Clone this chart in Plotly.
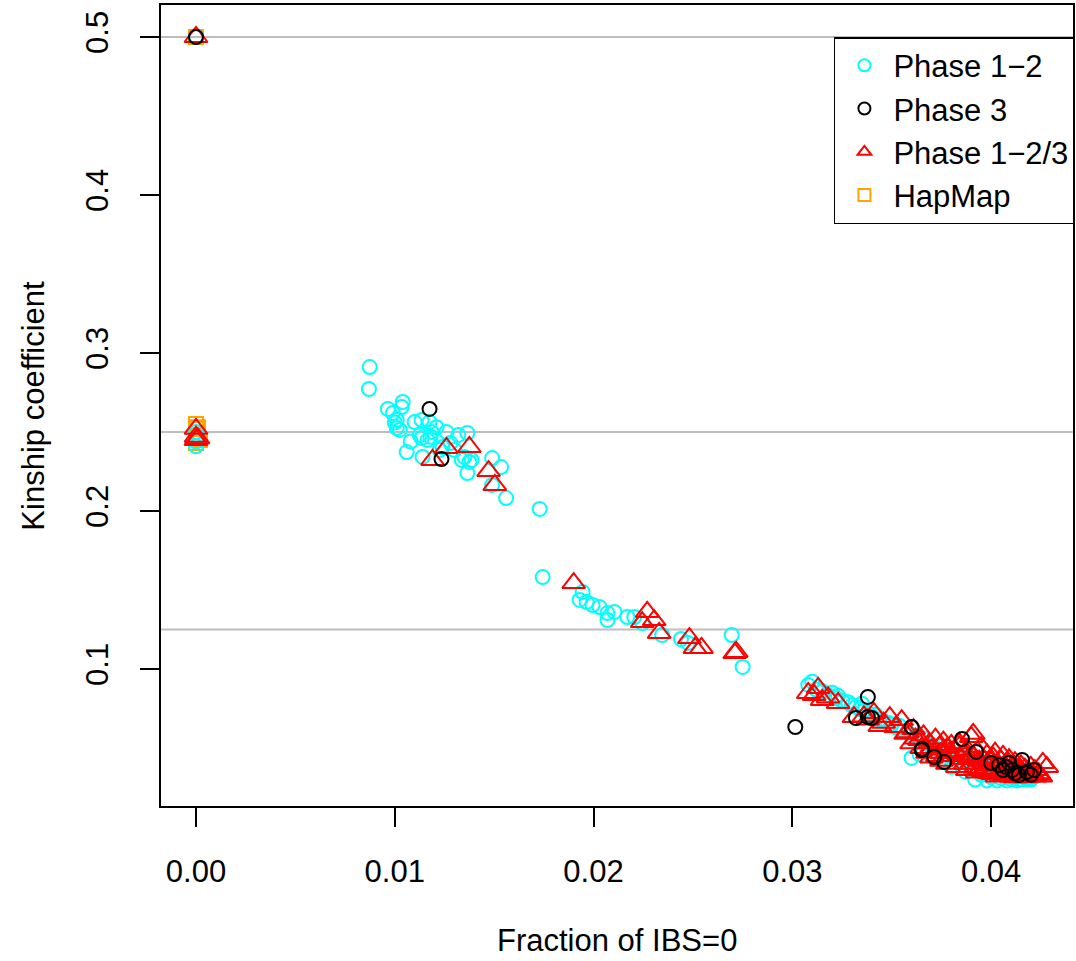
import plotly.graph_objects as go

# ---------------- data ----------------
# Phase 1-2 (cyan open circles)
p12_x = [0.0, 0.0, 0.0, 0.0001, 0.0,
         0.00874, 0.0087, 0.00965, 0.0099, 0.01035, 0.0104, 0.0101, 0.0101, 0.01025, 0.0106,
         0.0110, 0.01135, 0.01175, 0.01185, 0.01135, 0.01165, 0.0114, 0.01126, 0.0126, 0.0124,
         0.0132, 0.01365, 0.0130, 0.0135, 0.01375, 0.01365, 0.01337, 0.01387, 0.01226, 0.0149,
         0.01535, 0.0149, 0.0156, 0.01729, 0.01744, 0.0100, 0.0108, 0.0118, 0.0128, 0.0121,
         0.01945, 0.0193, 0.01965, 0.01995, 0.0203, 0.0207, 0.0207, 0.02105, 0.0217, 0.02205,
         0.02245, 0.02345, 0.0244, 0.02475, 0.02695, 0.0275,
         0.0310, 0.0308, 0.0312, 0.0315, 0.0318, 0.0320, 0.0322, 0.0325, 0.0328, 0.0330,
         0.0332, 0.0334, 0.0336, 0.0338, 0.0340, 0.0342, 0.0344, 0.0346, 0.0348, 0.0350,
         0.0352, 0.0354, 0.0356, 0.0358, 0.0360, 0.0360, 0.0362, 0.0364, 0.0366, 0.0368,
         0.0370, 0.0372, 0.0374, 0.0376, 0.0378, 0.0380, 0.0382, 0.0384, 0.0386, 0.0388,
         0.0390, 0.0392, 0.0394, 0.0396, 0.0398, 0.0400, 0.0402, 0.0404, 0.0406, 0.0408,
         0.0410, 0.0412, 0.0414, 0.0416, 0.0418, 0.0420, 0.0422, 0.0375, 0.0385, 0.0364,
         0.0395, 0.0400, 0.0405, 0.0410, 0.0415, 0.0419, 0.0366, 0.0370, 0.0323, 0.0335,
         0.0392, 0.0398, 0.0403, 0.0408, 0.0413, 0.0418, 0.0380, 0.0387]
p12_y = [0.241, 0.244, 0.250, 0.247, 0.500,
         0.2911, 0.2772, 0.2646, 0.2620, 0.2658, 0.2690, 0.2576, 0.2525, 0.2513, 0.2373,
         0.2563, 0.2576, 0.2563, 0.2500, 0.2462, 0.2449, 0.2342, 0.2481, 0.2500, 0.2405,
         0.2481, 0.2494, 0.2386, 0.2342, 0.2310, 0.2240, 0.2323, 0.2323, 0.2386, 0.2335,
         0.2278, 0.2165, 0.2082, 0.2013, 0.1582, 0.2560, 0.2440, 0.2470, 0.2430, 0.2530,
         0.1487, 0.1437, 0.1424, 0.1405, 0.1392, 0.1354, 0.1310, 0.1361, 0.1329, 0.1329,
         0.1291, 0.1215, 0.1190, 0.1165, 0.1215, 0.1013,
         0.0920, 0.0899, 0.0870, 0.0860, 0.0835, 0.0850, 0.0815, 0.0800, 0.0790, 0.0770,
         0.0760, 0.0745, 0.0735, 0.0720, 0.0700, 0.0710, 0.0680, 0.0670, 0.0660, 0.0650,
         0.0630, 0.0640, 0.0610, 0.0600, 0.0437, 0.0580, 0.0570, 0.0550, 0.0560, 0.0530,
         0.0520, 0.0500, 0.0510, 0.0480, 0.0490, 0.0470, 0.0460, 0.0450, 0.0440, 0.0430,
         0.0420, 0.0410, 0.0400, 0.0390, 0.0380, 0.0370, 0.0360, 0.0350, 0.0340, 0.0330,
         0.0320, 0.0310, 0.0300, 0.0320, 0.0310, 0.0300, 0.0320, 0.0420, 0.0390, 0.0460,
         0.0330, 0.0315, 0.0310, 0.0305, 0.0300, 0.0310, 0.0480, 0.0450, 0.0830, 0.0780,
         0.0300, 0.0295, 0.0295, 0.0295, 0.0295, 0.0300, 0.0380, 0.0350]

# Phase 3 (black open circles)
p3_x = [0.0, 0.01175, 0.01235, 0.03015, 0.0338, 0.0332, 0.0338, 0.0340, 0.0360, 0.03653,
        0.0365, 0.03714, 0.03764, 0.03854, 0.03925, 0.0400, 0.0404, 0.04075, 0.04106, 0.04156,
        0.0414, 0.0418, 0.04216, 0.0409, 0.0412, 0.0420, 0.0406]
p3_y = [0.500, 0.2646, 0.2329, 0.0633, 0.0823, 0.0690, 0.0696, 0.0690, 0.0633, 0.0494,
        0.0487, 0.0443, 0.0411, 0.0557, 0.0475, 0.0405, 0.0392, 0.0380, 0.0361, 0.0424,
        0.0329, 0.0348, 0.0361, 0.0405, 0.0340, 0.0330, 0.0360]

# Phase 1-2/3 (red open triangles)
p123_x = [0.0, 0.0, 0.0, 0.0001, 0.0,
          0.0119, 0.0126, 0.01375, 0.01472, 0.01503,
          0.0190, 0.0227, 0.02305, 0.02245, 0.0233, 0.02482, 0.02543, 0.0251, 0.02718, 0.0271,
          0.0308, 0.0311, 0.0313, 0.0315, 0.0318, 0.0323, 0.0331, 0.0336, 0.0341, 0.0346,
          0.0349, 0.0352, 0.0355, 0.0358, 0.0361, 0.0364, 0.0366, 0.0369, 0.0372, 0.0374,
          0.0376, 0.0378, 0.0380, 0.0382, 0.0384, 0.0386, 0.0388, 0.0390, 0.0391, 0.0393,
          0.0395, 0.0396, 0.0398, 0.0400, 0.0401, 0.0402, 0.0403, 0.0405, 0.0406, 0.0407,
          0.0408, 0.0409, 0.0410, 0.0411, 0.0412, 0.0413, 0.0414, 0.0415, 0.0416, 0.0417,
          0.0418, 0.0419, 0.0420, 0.0421, 0.0422, 0.0424, 0.0425, 0.0426, 0.0428, 0.0398,
          0.0394, 0.0389, 0.0385, 0.0380, 0.0375, 0.0370, 0.0365, 0.0360, 0.0405, 0.0410,
          0.0400, 0.0395, 0.0390, 0.0378, 0.0383, 0.0388, 0.0393, 0.0403, 0.0375, 0.0370,
          0.0391, 0.0384, 0.0379, 0.0396, 0.0401, 0.0407, 0.0412, 0.0417, 0.0422, 0.0399,
          0.0404, 0.0409, 0.0414, 0.0419, 0.0424, 0.0387, 0.0392, 0.0397, 0.0368, 0.0373,
          0.0362, 0.0357, 0.0344, 0.0338]
p123_y = [0.500, 0.252, 0.247, 0.246, 0.245,
          0.2323, 0.2399, 0.2405, 0.2253, 0.2165,
          0.1544, 0.1361, 0.1310, 0.1297, 0.1228, 0.1196, 0.1133, 0.1133, 0.1108, 0.1101,
          0.0848, 0.0835, 0.0880, 0.0804, 0.0820, 0.0785, 0.0696, 0.0700, 0.0722, 0.0660,
          0.0696, 0.0633, 0.0677, 0.0600, 0.0620, 0.0551, 0.0580, 0.0530, 0.0560, 0.0510,
          0.0540, 0.0500, 0.0520, 0.0480, 0.0510, 0.0460, 0.0490, 0.0570, 0.0450, 0.0480,
          0.0506, 0.0430, 0.0460, 0.0410, 0.0440, 0.0470, 0.0390, 0.0420, 0.0450, 0.0370,
          0.0400, 0.0430, 0.0350, 0.0380, 0.0410, 0.0330, 0.0360, 0.0390, 0.0340, 0.0370,
          0.0320, 0.0350, 0.0380, 0.0330, 0.0360, 0.0340, 0.0320, 0.0405, 0.0380, 0.0390,
          0.0420, 0.0440, 0.0430, 0.0450, 0.0470, 0.0490, 0.0500, 0.0530, 0.0330, 0.0320,
          0.0350, 0.0370, 0.0400, 0.0400, 0.0380, 0.0360, 0.0345, 0.0320, 0.0420, 0.0440,
          0.0590, 0.0530, 0.0470, 0.0355, 0.0335, 0.0325, 0.0315, 0.0315, 0.0320, 0.0340,
          0.0345, 0.0340, 0.0335, 0.0330, 0.0330, 0.0400, 0.0375, 0.0360, 0.0470, 0.0450,
          0.0560, 0.0590, 0.0640, 0.0680]

# HapMap (orange open squares)
hap_x = [0.0, 0.0, 0.0, 0.0, 0.0001, 0.0002, 0.0]
hap_y = [0.255, 0.252, 0.248, 0.243, 0.253, 0.245, 0.500]

# reference lines
ref_lines = [0.5, 0.25, 0.125]

# axis ticks
x_ticks = [0.0, 0.01, 0.02, 0.03, 0.04]
x_tick_labels = ["0.00", "0.01", "0.02", "0.03", "0.04"]
y_ticks = [0.1, 0.2, 0.3, 0.4, 0.5]
y_tick_labels = ["0.1", "0.2", "0.3", "0.4", "0.5"]

FONT = "Liberation Sans, Arial, Helvetica, sans-serif"
FS = 31

fig = go.Figure()

fig.add_trace(go.Scatter(x=hap_x, y=hap_y, mode="markers", name="HapMap", legendrank=4,
                         marker=dict(symbol="square-open", size=14, color="#FFA500",
                                     line=dict(width=2, color="#FFA500"))))
fig.add_trace(go.Scatter(x=p12_x, y=p12_y, mode="markers", name="Phase 1\u22122", legendrank=1,
                         marker=dict(symbol="circle-open", size=14, color="#00FFFF",
                                     line=dict(width=2, color="#00FFFF"))))
fig.add_trace(go.Scatter(x=p123_x, y=p123_y, mode="markers", name="Phase 1\u22122/3", legendrank=3,
                         marker=dict(symbol="triangle-up-open", size=20, color="#FF0000",
                                     line=dict(width=2, color="#FF0000"))))
fig.add_trace(go.Scatter(x=p3_x, y=p3_y, mode="markers", name="Phase 3", legendrank=2,
                         marker=dict(symbol="circle-open", size=14, color="#000000",
                                     line=dict(width=2, color="#000000"))))

for h in ref_lines:
    fig.add_shape(type="line", xref="paper", x0=0, x1=1, yref="y", y0=h, y1=h,
                  line=dict(color="#BEBEBE", width=2), layer="below")

fig.update_xaxes(range=[-0.00176, 0.04412], tickvals=x_ticks, ticktext=x_tick_labels,
                 showgrid=False, zeroline=False, showline=True, mirror=True,
                 linecolor="black", linewidth=2, ticks="outside", ticklen=19, tickwidth=1.5,
                 tickcolor="black", ticklabelstandoff=18,
                 tickfont=dict(family=FONT, size=FS, color="black"))
fig.update_yaxes(range=[0.01329, 0.52025], tickvals=y_ticks, ticktext=y_tick_labels,
                 showgrid=False, zeroline=False, showline=True, mirror=True,
                 linecolor="black", linewidth=2, ticks="outside", ticklen=19, tickwidth=1.5,
                 tickcolor="black", tickangle=-90, ticklabelstandoff=20,
                 tickfont=dict(family=FONT, size=FS, color="black"))

fig.add_annotation(text="Fraction of IBS=0", xref="paper", yref="paper", x=0.5, y=-0.1673,
                   xanchor="center", yanchor="middle", showarrow=False,
                   font=dict(family=FONT, size=FS, color="black"))
fig.add_annotation(text="Kinship coefficient", xref="paper", yref="paper", x=-0.1402, y=0.5,
                   xanchor="center", yanchor="middle", textangle=-90, showarrow=False,
                   font=dict(family=FONT, size=FS, color="black"))

fig.update_layout(
    width=1076, height=961,
    margin=dict(l=161, r=2, t=5, b=155),
    plot_bgcolor="white", paper_bgcolor="white",
    showlegend=True,
    legend=dict(x=1.001, xanchor="right", y=0.96, yanchor="top",
                bordercolor="black", borderwidth=1.5, bgcolor="white",
                font=dict(family=FONT, size=FS, color="black"),
                itemsizing="constant", itemwidth=48, tracegroupgap=0),
)

fig.write_html("out.html")
